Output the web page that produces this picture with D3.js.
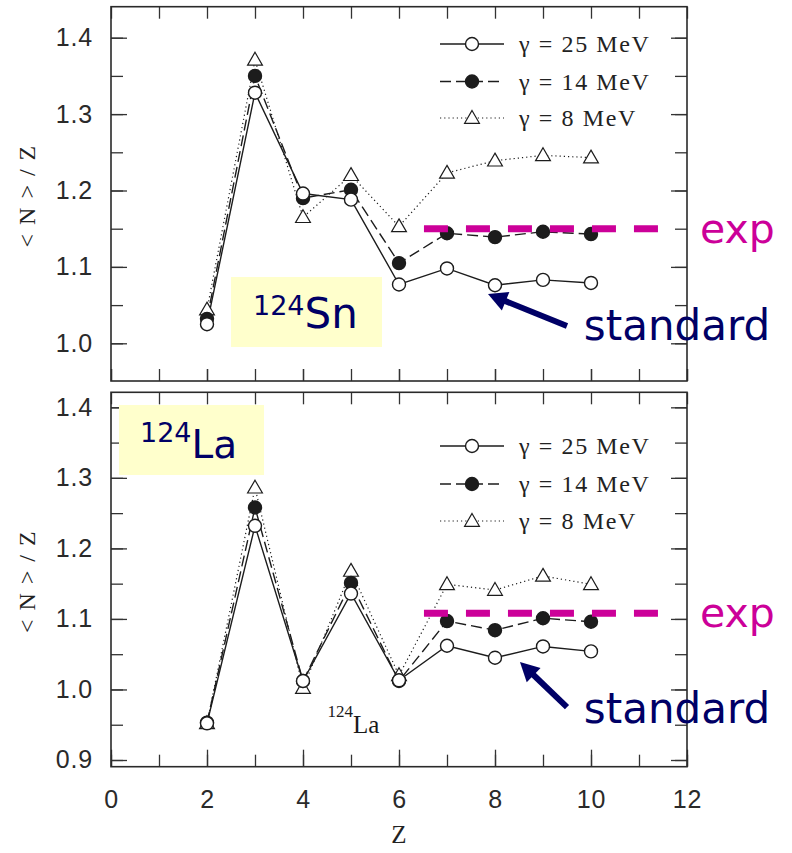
<!DOCTYPE html>
<html><head><meta charset="utf-8">
<script src="https://cdn.jsdelivr.net/npm/d3@7"></script>
<style>body{margin:0;background:#fff}</style>
</head><body>
<svg id="c" width="792" height="853"></svg>
<script>
// ---------------- data ----------------
const zValues = [2, 3, 4, 5, 6, 7, 8, 9, 10];
const sn25 = [1.025, 1.328, 1.196, 1.188, 1.077, 1.098, 1.076, 1.083, 1.079];
const sn14 = [1.032, 1.350, 1.190, 1.201, 1.105, 1.144, 1.139, 1.146, 1.143];
const sn8  = [1.044, 1.371, 1.165, 1.220, 1.153, 1.223, 1.239, 1.246, 1.243];
const la25 = [0.952, 1.232, 1.012, 1.136, 1.013, 1.062, 1.045, 1.061, 1.054];
const la14 = [0.953, 1.258, 1.012, 1.151, 1.012, 1.097, 1.084, 1.101, 1.096];
const la8  = [0.952, 1.286, 1.002, 1.168, 1.020, 1.149, 1.141, 1.161, 1.149];
const snExp = 1.150;
const laExp = 1.108;
const expZRange = [6.52, 11.4];
const seriesNames = ["γ = 25 MeV", "γ = 14 MeV", "γ = 8 MeV"];
const xTickValues = [0, 2, 4, 6, 8, 10, 12];
const snYTickValues = [1.0, 1.1, 1.2, 1.3, 1.4];
const laYTickValues = [0.9, 1.0, 1.1, 1.2, 1.3, 1.4];
const yAxisTitle = "< N > / Z";
const xAxisTitle = "Z";

// ---------------- layout ----------------
const svg = d3.select("#c");
const X0 = 111, X1 = 687;
const x = d3.scaleLinear().domain([0, 12]).range([X0, X1]);
const ink = "#1c1c1c";
const navy = "#000066";
const magenta = "#CC0099";

const styles = [
  {dash: null, marker: "circle", fill: "#fff"},
  {dash: "11,5", marker: "circle", fill: "#1c1c1c"},
  {dash: "1.2,3", marker: "triangle", fill: "#fff"}
];

function drawMarker(g, kind, fill, cx, cy) {
  if (kind === "circle") {
    g.append("circle").attr("cx", cx).attr("cy", cy).attr("r", 6.5)
      .attr("fill", fill).attr("stroke", ink).attr("stroke-width", 1.4);
  } else {
    g.append("path").attr("d", d3.symbol(d3.symbolTriangle, 95)())
      .attr("transform", `translate(${cx},${cy + 1})`)
      .attr("fill", fill).attr("stroke", ink).attr("stroke-width", 1.2);
  }
}

function panel(cfg) {
  const y = d3.scaleLinear().domain(cfg.yDomain).range([cfg.bottom, cfg.top]);
  const g = svg.append("g");

  const yMinor = d3.range(Math.ceil(cfg.yDomain[0] * 20), Math.floor(cfg.yDomain[1] * 20) + 1).map(d => d / 20);
  const xMinor = d3.range(0, 13);

  const tickStyle = sel => {
    sel.select(".domain").remove();
    sel.selectAll(".tick line").attr("stroke", "#333").attr("stroke-width", 1.3);
    sel.selectAll("text").attr("font-family", "Liberation Sans, Arial, sans-serif")
      .attr("font-size", 25).attr("letter-spacing", 0.8).attr("fill", "#2a2a2a");
  };

  g.append("g").attr("transform", `translate(${X0},0)`)
    .call(d3.axisLeft(y).tickValues(yMinor).tickSize(-12).tickFormat(""))
    .call(tickStyle);
  g.append("g").attr("transform", `translate(${X0},0)`)
    .call(d3.axisLeft(y).tickValues(cfg.yTicks).tickSize(-16).tickPadding(18).tickFormat(d3.format(".1f")))
    .call(tickStyle);
  g.append("g").attr("transform", `translate(${X1},0)`)
    .call(d3.axisRight(y).tickValues(yMinor).tickSize(-12).tickFormat(""))
    .call(tickStyle);
  g.append("g").attr("transform", `translate(${X1},0)`)
    .call(d3.axisRight(y).tickValues(cfg.yTicks).tickSize(-16).tickFormat(""))
    .call(tickStyle);
  g.append("g").attr("transform", `translate(0,${cfg.top})`)
    .call(d3.axisTop(x).tickValues(xMinor).tickSize(-12).tickFormat(""))
    .call(tickStyle);
  g.append("g").attr("transform", `translate(0,${cfg.bottom})`)
    .call(d3.axisBottom(x).tickValues(xMinor).tickSize(-12).tickFormat(""))
    .call(tickStyle);
  g.append("g").attr("transform", `translate(0,${cfg.bottom})`)
    .call(d3.axisBottom(x).tickValues(xTickValues).tickSize(cfg.showX ? -17 : -12).tickPadding(24)
      .tickFormat(cfg.showX ? d3.format("d") : ""))
    .call(tickStyle);

  g.append("rect").attr("x", X0).attr("y", cfg.top).attr("width", X1 - X0).attr("height", cfg.bottom - cfg.top)
    .attr("fill", "none").attr("stroke", "#2a2a2a").attr("stroke-width", 1.6);

  g.append("text").attr("transform", `translate(35,${(cfg.top + cfg.bottom) / 2 + 2}) rotate(-90)`)
    .attr("text-anchor", "middle").attr("font-family", "Liberation Serif, Times New Roman, serif")
    .attr("font-size", 24).attr("letter-spacing", 1.5).attr("fill", "#222").text(yAxisTitle);

  g.append("rect").attr("x", cfg.box[0]).attr("y", cfg.box[1]).attr("width", cfg.box[2]).attr("height", cfg.box[3])
    .attr("fill", "#FFFFCC");
  const bt = g.append("text").attr("x", cfg.boxText[0]).attr("y", cfg.boxText[1])
    .attr("font-family", "DejaVu Sans, Verdana, sans-serif").attr("fill", navy);
  bt.append("tspan").attr("font-size", 27).text("124");
  bt.append("tspan").attr("font-size", cfg.boxBig).attr("dy", cfg.boxDy).text(cfg.element);

  const line = d3.line().x(d => x(d[0])).y(d => y(d[1]));
  cfg.series.forEach((vals, i) => {
    const pts = zValues.map((z, k) => [z, vals[k]]);
    g.append("path").attr("d", line(pts)).attr("fill", "none").attr("stroke", ink)
      .attr("stroke-width", i === 2 ? 1.2 : 1.4).attr("stroke-dasharray", styles[i].dash);
  });
  [2, 1, 0].forEach(i => {
    const vals = cfg.series[i];
    zValues.forEach((z, k) => drawMarker(g, styles[i].marker, styles[i].fill, x(z), y(vals[k])));
  });

  g.append("line").attr("x1", x(expZRange[0])).attr("x2", x(expZRange[1]))
    .attr("y1", y(cfg.exp)).attr("y2", y(cfg.exp))
    .attr("stroke", magenta).attr("stroke-width", 7).attr("stroke-dasharray", "24,18");
  g.append("text").attr("x", x(12.27)).attr("y", y(cfg.exp) + 14)
    .attr("font-family", "DejaVu Sans, Verdana, sans-serif").attr("font-size", 41)
    .attr("fill", magenta).text("exp");

  const tip = [x(cfg.arrow[0][0]), y(cfg.arrow[0][1])];
  const tail = [x(cfg.arrow[1][0]), y(cfg.arrow[1][1])];
  const ang = Math.atan2(tip[1] - tail[1], tip[0] - tail[0]);
  const hl = 19, hw = 10;
  const base = [tip[0] - hl * Math.cos(ang), tip[1] - hl * Math.sin(ang)];
  g.append("line").attr("x1", tail[0]).attr("y1", tail[1]).attr("x2", base[0] + 2 * Math.cos(ang)).attr("y2", base[1] + 2 * Math.sin(ang))
    .attr("stroke", navy).attr("stroke-width", 6);
  const px = -Math.sin(ang), py = Math.cos(ang);
  g.append("path").attr("d", `M${tip[0]},${tip[1]} L${base[0] + hw * px},${base[1] + hw * py} L${base[0] - hw * px},${base[1] - hw * py} Z`)
    .attr("fill", navy);
  g.append("text").attr("x", x(cfg.standard[0])).attr("y", y(cfg.standard[1]))
    .attr("font-family", "DejaVu Sans, Verdana, sans-serif").attr("font-size", 42)
    .attr("fill", navy).text("standard");

  const lg = g.append("g");
  seriesNames.forEach((name, i) => {
    const ly = cfg.legendY[i];
    lg.append("line").attr("x1", 440).attr("x2", 504).attr("y1", ly).attr("y2", ly)
      .attr("stroke", ink).attr("stroke-width", i === 2 ? 1.1 : 1.4).attr("stroke-dasharray", styles[i].dash);
    drawMarker(lg, styles[i].marker, styles[i].fill, 472, ly);
    lg.append("text").attr("x", 519).attr("y", ly + 8)
      .attr("font-family", "Liberation Serif, Times New Roman, serif").attr("font-size", 24)
      .attr("letter-spacing", 1.6).attr("fill", "#222").text(name);
  });

  return {g, y};
}

panel({
  top: 6.7, bottom: 381, yDomain: [0.95065, 1.44058], yTicks: snYTickValues, showX: false,
  series: [sn25, sn14, sn8], exp: snExp, element: "Sn",
  box: [231, 277, 151, 70], boxText: [253, 315], boxBig: 42, boxDy: 13,
  arrow: [[7.854, 1.0645], [9.5, 1.0226]], standard: [9.85, 1.0043],
  legendY: [44, 81.5, 118]
});

const bottomPanel = panel({
  top: 392.3, bottom: 766.7, yDomain: [0.8905, 1.4213], yTicks: laYTickValues, showX: true,
  series: [la25, la14, la8], exp: laExp, element: "La",
  box: [119, 405, 145, 70], boxText: [140, 442], boxBig: 39, boxDy: 15.5,
  arrow: [[8.52, 1.039], [9.5, 0.975]], standard: [9.85, 0.9525],
  legendY: [446, 484, 521]
});

// small 124La annotation inside lower panel
const ann = svg.append("text").attr("x", x(4.51)).attr("y", bottomPanel.y(0.9383))
  .attr("font-family", "Liberation Serif, Times New Roman, serif").attr("fill", "#1a1a1a");
ann.append("tspan").attr("font-size", 17).attr("dy", -16).text("124");
ann.append("tspan").attr("font-size", 25).attr("dy", 16).text("La");

svg.append("text").attr("x", x(6)).attr("y", 843).attr("text-anchor", "middle")
  .attr("font-family", "Liberation Serif, Times New Roman, serif").attr("font-size", 25)
  .attr("fill", "#222").text(xAxisTitle);
</script>
</body></html>
